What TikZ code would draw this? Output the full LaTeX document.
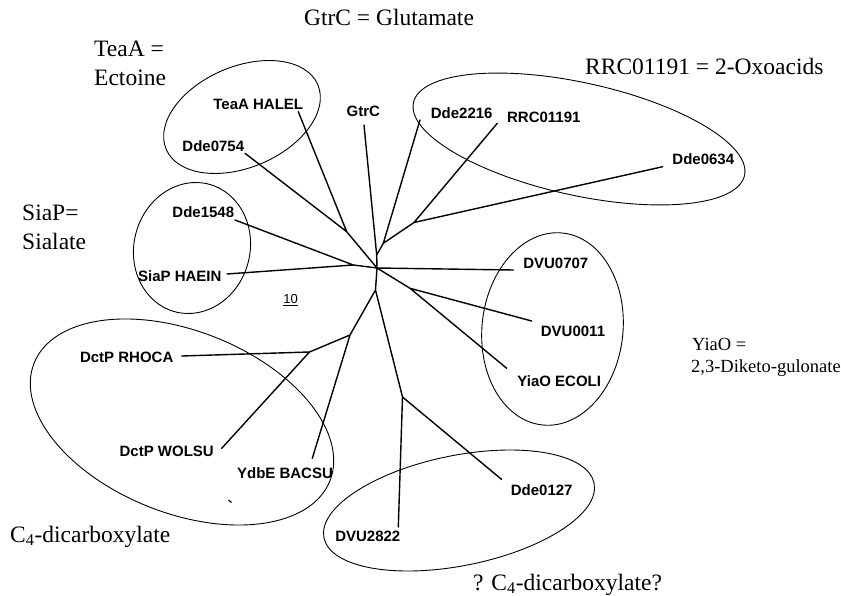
\documentclass[tikz,border=0pt]{standalone}
\usepackage{fontspec}
\setmainfont{Liberation Serif}
\newfontfamily\labfont{Liberation Sans}
\begin{document}
\begin{tikzpicture}[x=1pt,y=-1pt,
  branch/.style={line width=1.4pt, line cap=round},
  grp/.style={line width=0.9pt},
  leaf/.style={font=\labfont\bfseries\fontsize{15}{17}\selectfont, inner sep=0pt},
  note/.style={font=\fontsize{23.5}{27}\selectfont, inner sep=0pt},
  smallnote/.style={font=\fontsize{18.5}{21}\selectfont, inner sep=0pt}]
\fill[white] (0,0) rectangle (841,596);
\useasboundingbox (0,0) rectangle (841,596);

% group ellipses
\draw[grp, rotate around={23:(242,117)}] (242,117) ellipse [x radius=82.4, y radius=50.4];
\draw[grp, rotate around={-12.4:(579,139)}] (579,139) ellipse [x radius=169.5, y radius=56.3];
\draw[grp, rotate around={-15:(192,248)}] (192,248) ellipse [x radius=58, y radius=66];
\draw[grp, rotate around={-6:(552.5,329)}] (552.5,329) ellipse [x radius=70.5, y radius=96.5];
\draw[grp, rotate around={-21.7:(182,422)}] (182,422) ellipse [x radius=159.2, y radius=91];
\draw[grp, rotate around={11.4:(459,510.5)}] (459,510.5) ellipse [x radius=137.8, y radius=55.1];

% leaf labels
\node[leaf, anchor=base] (lTeaA) at (258.3,110) {TeaA HALEL};
\node[leaf, anchor=base] (lD0754) at (213.3,151.7) {Dde0754};
\node[leaf, anchor=base] (lGtrC) at (363.3,116.7) {GtrC};
\node[leaf, anchor=base] (lD1548) at (203.3,218) {Dde1548};
\node[leaf, anchor=base east] (lSiaP) at (221.7,281.7) {SiaP HAEIN};
\node[leaf, anchor=base] (lD2216) at (461.7,118.3) {Dde2216};
\node[leaf, anchor=base] (lRRC) at (543.8,123) {RRC01191};
\node[leaf, anchor=base] (lD0634) at (703.3,165) {Dde0634};
\node[leaf, anchor=base] (lV0707) at (555.8,268.3) {DVU0707};
\node[leaf, anchor=base] (lV0011) at (573,336.7) {DVU0011};
\node[leaf, anchor=base] (lYiaO) at (559.2,386.7) {YiaO ECOLI};
\node[leaf, anchor=base] (lRHOCA) at (126.7,362.7) {DctP RHOCA};
\node[leaf, anchor=base] (lWOLSU) at (166.7,456.7) {DctP WOLSU};
\node[leaf, anchor=base] (lYdbE) at (285,478) {YdbE BACSU};
\node[leaf, anchor=base] (lV2822) at (367.8,541.7) {DVU2822};
\node[leaf, anchor=base] (lD0127) at (541.7,495) {Dde0127};

% tree: internal nodes
\coordinate (O) at (377,268);
\coordinate (n1) at (346.7,231.7);
\coordinate (n2) at (353.3,265);
\coordinate (n3) at (376.7,255);
\coordinate (n4) at (383.3,243.3);
\coordinate (n5) at (414,222.5);
\coordinate (n6) at (410,288.3);
\coordinate (n7) at (375.5,290);
\coordinate (n8) at (350,335);
\coordinate (n9) at (309.5,352);
\coordinate (n10) at (402.5,397);
% tree: leaf ends
\coordinate (tTeaA) at (298.3,111.7);
\coordinate (tD0754) at (245,153.3);
\coordinate (tD1548) at (235,220);
\coordinate (tSiaP) at (227,274);
\coordinate (tGtrC) at (364,125);
\coordinate (tD2216) at (420,120);
\coordinate (tRRC) at (497.3,123.3);
\coordinate (tD0634) at (662.7,166.7);
\coordinate (tV0707) at (513.3,270);
\coordinate (tV0011) at (531.7,321);
\coordinate (tYiaO) at (506.7,368.3);
\coordinate (tRHOCA) at (181.7,356);
\coordinate (tWOLSU) at (221.7,448.3);
\coordinate (tYdbE) at (312.3,458.3);
\coordinate (tV2822) at (398.3,527);
\coordinate (tD0127) at (501.7,479.5);

\draw[branch] (O) -- (n1) (n1) -- (tTeaA) (n1) -- (tD0754);
\draw[branch] (O) -- (n2) (n2) -- (tD1548) (n2) -- (tSiaP);
\draw[branch] (O) -- (n3) (n3) -- (tGtrC) (n3) -- (n4) (n4) -- (tD2216)
  (n4) -- (n5) (n5) -- (tRRC) (n5) -- (tD0634);
\draw[branch] (O) -- (tV0707) (O) -- (n6) (n6) -- (tV0011) (n6) -- (tYiaO);
\draw[branch] (O) -- (n7) (n7) -- (n8) (n8) -- (n9) (n9) -- (tRHOCA)
  (n9) -- (tWOLSU) (n8) -- (tYdbE) (n7) -- (n10) (n10) -- (tV2822) (n10) -- (tD0127);

% scale bar
\node[font=\labfont\fontsize{13}{15}\selectfont, inner sep=0pt, anchor=base] (scale) at (290.5,303) {10};
\draw[line width=0.9pt] ([yshift=-2.5pt]scale.south west) -- ([yshift=-2.5pt]scale.south east);

% stray mark
\coordinate (m1) at (228.5,500);
\coordinate (m2) at (231.5,502.5);
\draw[line width=1.2pt] (m1) -- (m2);

% annotations
\node[note, anchor=base] (gtr) at (389,26) {GtrC = Glutamate};
\node[note, anchor=base west] (tea1) at (94,57) {TeaA =};
\node[note, anchor=base west] (tea2) at (94,86) {Ectoine};
\node[note, anchor=base west] (rrc) at (585,75) {RRC01191 = 2-Oxoacids};
\node[note, anchor=base west] (sia1) at (22,221) {SiaP=};
\node[note, anchor=base west] (sia2) at (22,250) {Sialate};
\node[smallnote, anchor=base west] (yia1) at (692,350) {YiaO =};
\node[smallnote, anchor=base west] (yia2) at (691,372) {2,3-Diketo-gulonate};
\node[note, anchor=base west] (c4) at (10,542) {C\textsubscript{4}-dicarboxylate};
\node[note, anchor=base west] (qc4) at (473,590) {? C\textsubscript{4}-dicarboxylate?};
\end{tikzpicture}
\end{document}
